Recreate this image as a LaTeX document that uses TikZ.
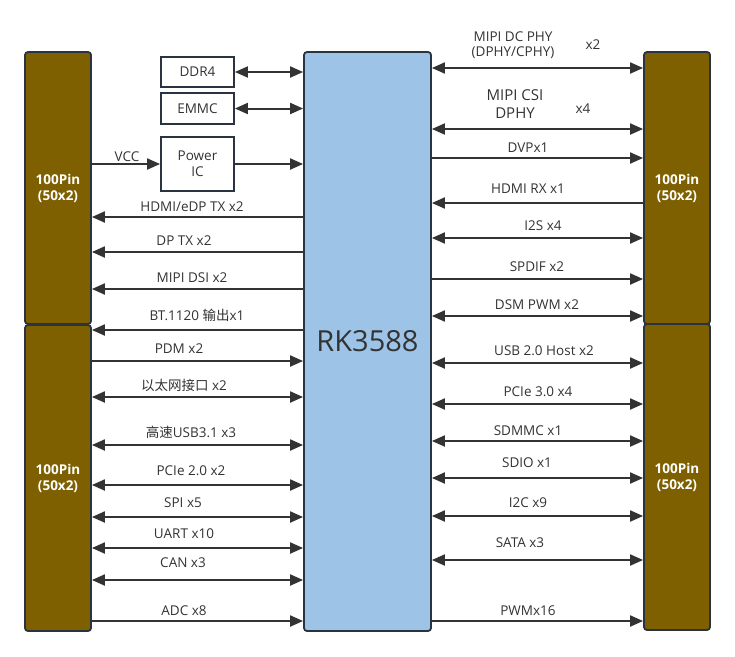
\documentclass[tikz,border=0pt]{standalone}
\usepackage{fontspec}
\setmainfont{Open Sans}
\newfontfamily\cjk{Noto Sans CJK SC}
\usetikzlibrary{arrows.meta}
\definecolor{brownfill}{HTML}{7F6000}
\definecolor{cpublue}{HTML}{9DC3E6}
\definecolor{ink}{HTML}{333333}
\definecolor{edge}{HTML}{2A3440}
\tikzset{
  pinbox/.style={draw=edge, line width=1.8pt, fill=brownfill, rounded corners=3pt, minimum width=66pt, text=white, align=center, font=\fontsize{13.5}{16}\selectfont\bfseries, inner sep=0pt},
  cpubox/.style={draw=edge, line width=1.8pt, fill=cpublue, rounded corners=3pt, minimum width=127pt, minimum height=579pt, text=ink, font=\fontsize{29}{32}\selectfont},
  smallbox/.style={draw=edge, line width=1.8pt, fill=white, minimum width=73pt, text=ink, align=center, font=\fontsize{13.5}{16}\selectfont, inner sep=0pt},
  conn/.style={draw=ink, line width=2pt, arrows={-Triangle[length=13pt, width=11pt]}},
  bconn/.style={draw=ink, line width=2pt, arrows={Triangle[length=13pt, width=11pt]-Triangle[length=13pt, width=11pt]}},
  lbl/.style={text=ink, font=\fontsize{13.5}{16}\selectfont, inner sep=0pt, align=center}
}
\begin{document}
\begin{tikzpicture}[x=1pt,y=-1pt]
\useasboundingbox (0,0) rectangle (735,656);
% boxes
\node[pinbox, minimum height=272pt] (L1) at (58,188) {100Pin\\(50x2)};
\node[pinbox, minimum height=306pt] (L2) at (58,478) {100Pin\\(50x2)};
\node[pinbox, minimum height=272pt] (R1) at (677,188) {100Pin\\(50x2)};
\node[pinbox, minimum height=306pt] (R2) at (677,477) {100Pin\\(50x2)};
\node[cpubox] (cpu) at (367.5,341.5) {RK3588};
\node[smallbox, minimum height=30pt] (ddr) at (197.5,72) {DDR4};
\node[smallbox, minimum height=31pt] (emmc) at (197.5,108.5) {EMMC};
\node[smallbox, minimum height=54pt] (pwr) at (197.5,164) {Power\\IC};
% memory / power connectors
\draw[bconn] (ddr.east) -- (ddr.east -| cpu.west);
\draw[bconn] (emmc.east) -- (emmc.east -| cpu.west);
\draw[conn] (L1.east |- pwr.west) -- (pwr.west);
\draw[conn] (pwr.east) -- (pwr.east -| cpu.west);
\node[lbl] (vcc) at (127,157) {VCC};
% left side
\draw[conn] (cpu.west |- 0,217) -- (L1.east |- 0,217);
\node[lbl] (l1) at (192,207) {HDMI/eDP TX x2};
\draw[conn] (cpu.west |- 0,252) -- (L1.east |- 0,252);
\node[lbl] (l2) at (184,241) {DP TX x2};
\draw[conn] (cpu.west |- 0,289) -- (L1.east |- 0,289);
\node[lbl] (l3) at (192,278) {MIPI DSI x2};
\draw[conn] (cpu.west |- 0,330) -- (L2.east |- 0,330);
\node[lbl] (l4) at (197,315) {BT.1120 {\cjk 输出}x1};
\draw[conn] (L2.east |- 0,361) -- (cpu.west |- 0,361);
\node[lbl] (l5) at (179,349) {PDM x2};
\draw[bconn] (L2.east |- 0,397) -- (cpu.west |- 0,397);
\node[lbl] (l6) at (184,385) {{\cjk 以太网接口} x2};
\draw[bconn] (L2.east |- 0,445) -- (cpu.west |- 0,445);
\node[lbl] (l7) at (191,432) {{\cjk 高速}USB3.1 x3};
\draw[bconn] (L2.east |- 0,485) -- (cpu.west |- 0,485);
\node[lbl] (l8) at (191,471) {PCIe 2.0 x2};
\draw[bconn] (L2.east |- 0,517) -- (cpu.west |- 0,517);
\node[lbl] (l9) at (183,503) {SPI x5};
\draw[bconn] (L2.east |- 0,548) -- (cpu.west |- 0,548);
\node[lbl] (l10) at (184,534) {UART x10};
\draw[bconn] (L2.east |- 0,580) -- (cpu.west |- 0,580);
\node[lbl] (l11) at (183,563) {CAN x3};
\draw[conn] (L2.east |- 0,621) -- (cpu.west |- 0,621);
\node[lbl] (l12) at (184,611) {ADC x8};
% right side
\draw[bconn] (cpu.east |- 0,68) -- (R1.west |- 0,68);
\node[lbl] (r1a) at (513,37) {MIPI DC PHY};
\node[lbl] (r1b) at (513,53) {(DPHY/CPHY)};
\node[lbl] (r1c) at (593,45) {x2};
\draw[bconn] (cpu.east |- 0,129) -- (R1.west |- 0,129);
\node[lbl, font=\fontsize{15}{18}\selectfont] (r2a) at (515,104) {MIPI CSI\\DPHY};
\node[lbl] (r2c) at (583,109) {x4};
\draw[conn] (cpu.east |- 0,158) -- (R1.west |- 0,158);
\node[lbl] (r3) at (528,148) {DVPx1};
\draw[conn] (R1.west |- 0,203) -- (cpu.east |- 0,203);
\node[lbl] (r4) at (528,189) {HDMI RX x1};
\draw[bconn] (cpu.east |- 0,238) -- (R1.west |- 0,238);
\node[lbl] (r5) at (543,226) {I2S x4};
\draw[conn] (cpu.east |- 0,279) -- (R1.west |- 0,279);
\node[lbl] (r6) at (537,267) {SPDIF x2};
\draw[bconn] (cpu.east |- 0,316) -- (R1.west |- 0,316);
\node[lbl] (r7) at (537,305) {DSM PWM x2};
\draw[bconn] (cpu.east |- 0,363) -- (R2.west |- 0,363);
\node[lbl] (r8) at (544,351) {USB 2.0 Host x2};
\draw[bconn] (cpu.east |- 0,404) -- (R2.west |- 0,404);
\node[lbl] (r9) at (538,392) {PCIe 3.0 x4};
\draw[bconn] (cpu.east |- 0,441) -- (R2.west |- 0,441);
\node[lbl] (r10) at (528,431) {SDMMC x1};
\draw[bconn] (cpu.east |- 0,478) -- (R2.west |- 0,478);
\node[lbl] (r11) at (527,463) {SDIO x1};
\draw[bconn] (cpu.east |- 0,516) -- (R2.west |- 0,516);
\node[lbl] (r12) at (528,503) {I2C x9};
\draw[bconn] (cpu.east |- 0,560) -- (R2.west |- 0,560);
\node[lbl] (r13) at (520,543) {SATA x3};
\draw[conn] (cpu.east |- 0,621) -- (R2.west |- 0,621);
\node[lbl] (r14) at (528,611) {PWMx16};
\end{tikzpicture}
\end{document}
